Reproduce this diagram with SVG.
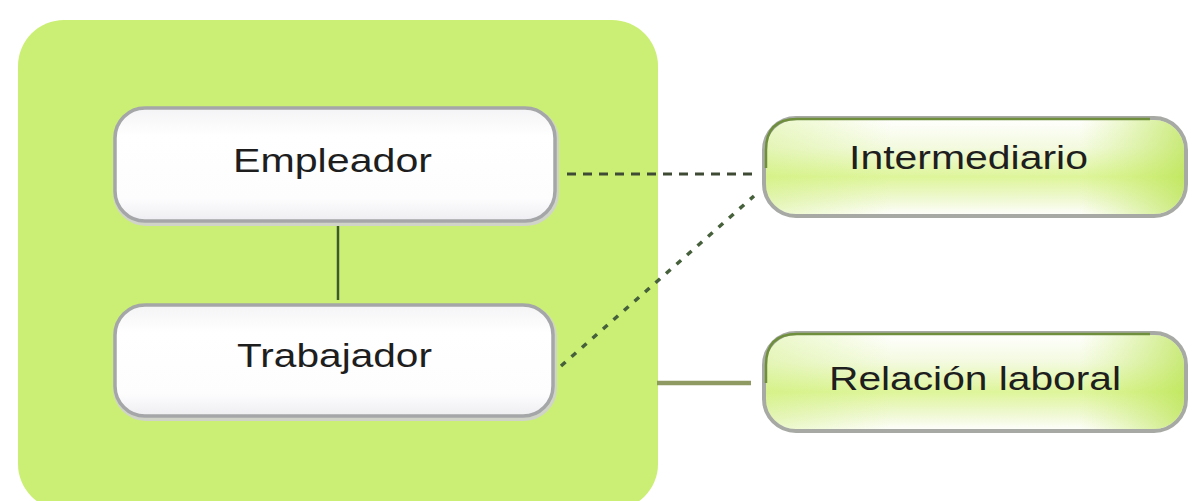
<svg xmlns="http://www.w3.org/2000/svg" width="1194" height="501" viewBox="0 0 1194 501">
  <defs>
    <linearGradient id="whiteFill" x1="0" y1="0" x2="0" y2="1">
      <stop offset="0" stop-color="#f4f4f6"/>
      <stop offset="0.25" stop-color="#ffffff"/>
      <stop offset="0.8" stop-color="#fdfdfe"/>
      <stop offset="1" stop-color="#eeeef2"/>
    </linearGradient>
    <linearGradient id="greenFill" x1="0" y1="0" x2="0" y2="1">
      <stop offset="0" stop-color="#ffffff"/>
      <stop offset="0.3" stop-color="#f3fadf"/>
      <stop offset="0.6" stop-color="#def59a"/>
      <stop offset="0.85" stop-color="#f1f9d8"/>
      <stop offset="1" stop-color="#ffffff"/>
    </linearGradient>
    <linearGradient id="greenSide" x1="0" y1="0" x2="1" y2="0">
      <stop offset="0" stop-color="#c8ec6a" stop-opacity="0.35"/>
      <stop offset="0.3" stop-color="#c8ec6a" stop-opacity="0"/>
      <stop offset="0.75" stop-color="#c8ec6a" stop-opacity="0"/>
      <stop offset="1" stop-color="#b6e24a" stop-opacity="0.7"/>
    </linearGradient>
    <style>
      .panel { fill: #cbef74; }
      .wbox { fill: url(#whiteFill); stroke: #a4a6a8; stroke-width: 3.5; }
      .wshadow { fill: none; stroke: #d0d4c8; stroke-width: 6; }
      .gbox { fill: url(#greenFill); stroke: #a7aaa4; stroke-width: 4; }
      .gside { fill: url(#greenSide); stroke: none; }
      .gtop { fill: none; stroke: #6f8f3c; stroke-width: 2.5; }
      .label { font-family: "Liberation Sans", Arial, sans-serif; font-size: 33px; fill: #1e1e1e; text-anchor: start; }
      .dash { fill: none; stroke: #3f4a35; stroke-width: 3; stroke-dasharray: 9 7; }
      .dashd { fill: none; stroke: #45603a; stroke-width: 3.5; stroke-dasharray: 6 8; }
      .solidv { fill: none; stroke: #3c5a2c; stroke-width: 2.5; }
      .solidh { fill: none; stroke: #8f9a62; stroke-width: 4.5; }
    </style>
  </defs>

  <rect width="1194" height="501" fill="#ffffff"/>

  <g id="panel">
    <rect class="panel" x="18" y="20" width="640" height="490" rx="46" ry="46"/>
  </g>

  <g id="connectors">
    <line class="solidv" x1="338" y1="224" x2="338" y2="300"/>
    <line class="dash" x1="567" y1="174" x2="752" y2="174"/>
    <line class="dashd" x1="561" y1="366" x2="754" y2="196"/>
    <line class="solidh" x1="657" y1="383" x2="751" y2="383"/>
  </g>

  <g id="empleador">
    <rect class="wshadow" x="116" y="110" width="440" height="113" rx="30" ry="30"/>
    <rect class="wbox" x="115" y="108" width="440" height="113" rx="30" ry="30"/>
    <text class="label" x="233" y="172" textLength="199" lengthAdjust="spacingAndGlyphs">Empleador</text>
  </g>

  <g id="trabajador">
    <rect class="wshadow" x="116" y="307" width="438" height="111" rx="30" ry="30"/>
    <rect class="wbox" x="115" y="305" width="438" height="111" rx="30" ry="30"/>
    <text class="label" x="237" y="367" textLength="195" lengthAdjust="spacingAndGlyphs">Trabajador</text>
  </g>

  <g id="intermediario">
    <rect class="gbox" x="764" y="118" width="422" height="98" rx="32" ry="32"/>
    <rect class="gside" x="766" y="120" width="418" height="94" rx="30" ry="30"/>
    <path class="gtop" d="M766,168 L766,150 Q766,119 797,119 L1150,119"/>
    <text class="label" x="849" y="169" textLength="239" lengthAdjust="spacingAndGlyphs">Intermediario</text>
  </g>

  <g id="relacion">
    <rect class="gbox" x="764" y="333" width="422" height="98" rx="32" ry="32"/>
    <rect class="gside" x="766" y="335" width="418" height="94" rx="30" ry="30"/>
    <path class="gtop" d="M766,383 L766,365 Q766,334 797,334 L1150,334"/>
    <text class="label" x="829" y="390" textLength="292" lengthAdjust="spacingAndGlyphs">Relación laboral</text>
  </g>
</svg>
